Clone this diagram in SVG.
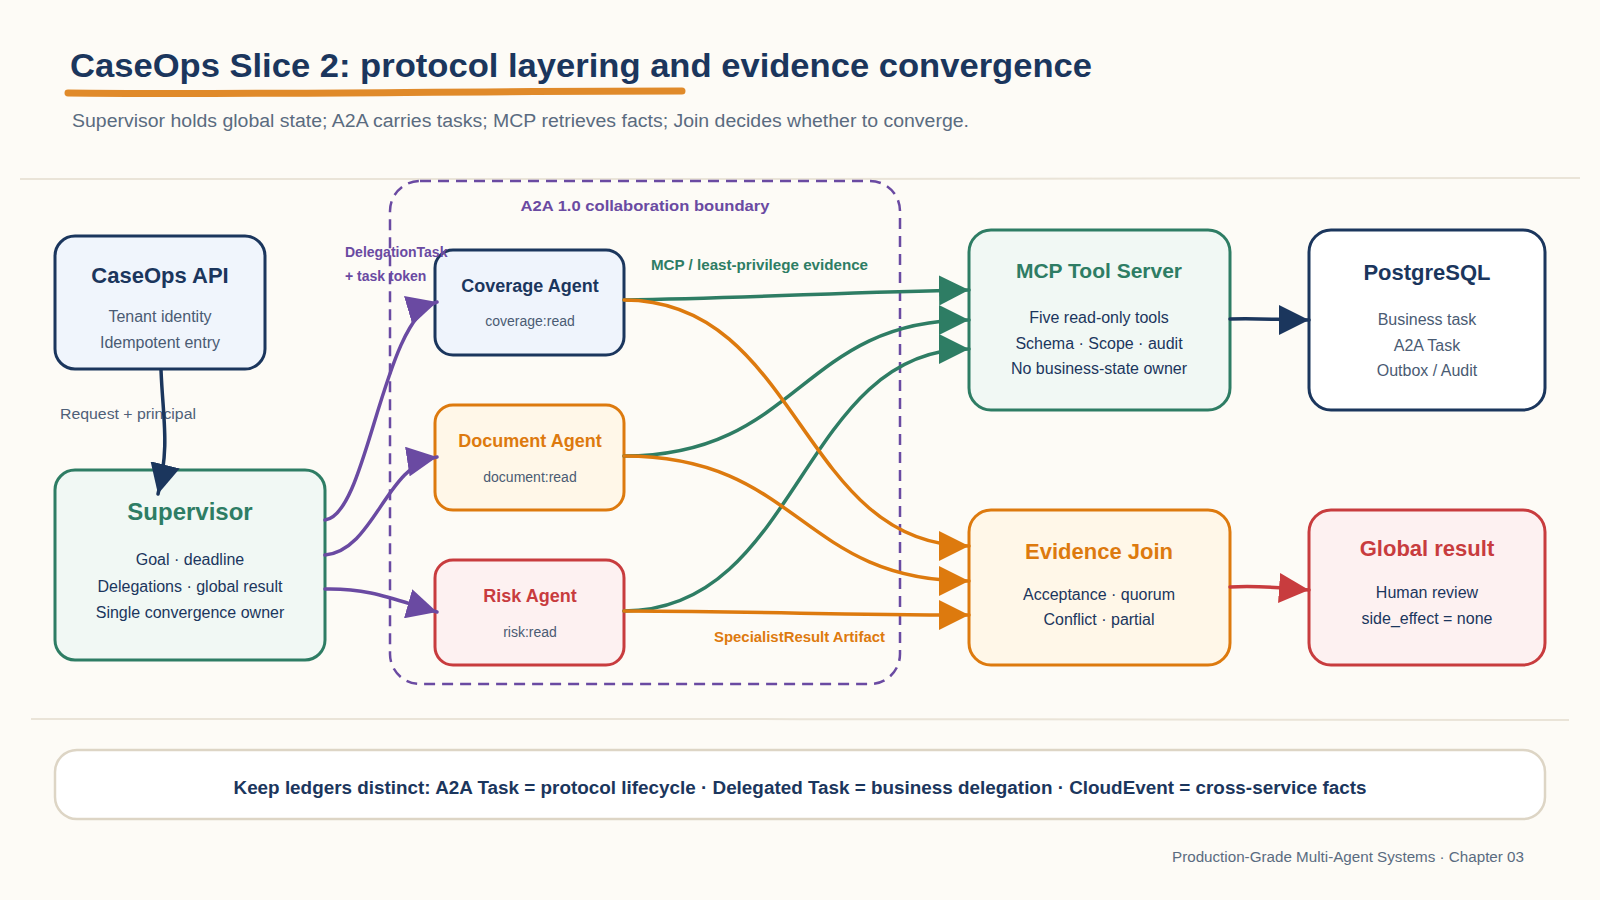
<svg xmlns="http://www.w3.org/2000/svg" width="1600" height="900" viewBox="0 0 1600 900">
<defs>
<style>
text{font-family:"Liberation Sans","Noto Sans",Arial,sans-serif;}
.t{font-weight:700;text-anchor:middle;dominant-baseline:central;}
.b{font-size:16px;text-anchor:middle;dominant-baseline:central;}
.s{font-size:14px;text-anchor:middle;dominant-baseline:central;fill:#4A5B73;}
.box{stroke-width:3;}
.e{fill:none;stroke-width:3.5;stroke-linecap:round;}
.lbl{font-size:14px;font-weight:700;dominant-baseline:central;}
</style>
<marker id="aNavy" viewBox="0 0 10 10" refX="10" refY="5" markerWidth="30" markerHeight="30" markerUnits="userSpaceOnUse" orient="auto"><path d="M0,0 L10,5 L0,10 z" fill="#1B365D"/></marker>
<marker id="aPurple" viewBox="0 0 10 10" refX="10" refY="5" markerWidth="30" markerHeight="30" markerUnits="userSpaceOnUse" orient="auto"><path d="M0,0 L10,5 L0,10 z" fill="#6A4AA2"/></marker>
<marker id="aGreen" viewBox="0 0 10 10" refX="10" refY="5" markerWidth="30" markerHeight="30" markerUnits="userSpaceOnUse" orient="auto"><path d="M0,0 L10,5 L0,10 z" fill="#2E7D64"/></marker>
<marker id="aOrange" viewBox="0 0 10 10" refX="10" refY="5" markerWidth="30" markerHeight="30" markerUnits="userSpaceOnUse" orient="auto"><path d="M0,0 L10,5 L0,10 z" fill="#DD7A0E"/></marker>
<marker id="aRed" viewBox="0 0 10 10" refX="10" refY="5" markerWidth="30" markerHeight="30" markerUnits="userSpaceOnUse" orient="auto"><path d="M0,0 L10,5 L0,10 z" fill="#C83C3E"/></marker>
</defs>
<rect width="1600" height="900" fill="#FDFBF6"/>

<g id="header">
<text x="70" y="77" font-size="33" font-weight="700" fill="#1B365D" textLength="1022" lengthAdjust="spacingAndGlyphs">CaseOps Slice 2: protocol layering and evidence convergence</text>
<path d="M68,93 C250,95 450,91 682,91" fill="none" stroke="#E08A2A" stroke-width="7" stroke-linecap="round"/>
<text x="72" y="127" font-size="18" fill="#5A6B80" textLength="897" lengthAdjust="spacingAndGlyphs">Supervisor holds global state; A2A carries tasks; MCP retrieves facts; Join decides whether to converge.</text>
<path d="M20,179 C500,177 1100,181 1580,178" fill="none" stroke="#EAE4D8" stroke-width="2"/>
<path d="M31,719 C500,721 1100,717 1569,720" fill="none" stroke="#EAE4D8" stroke-width="2"/>
</g>

<g id="a2a-boundary">
<rect x="390" y="181" width="510" height="503" rx="30" fill="none" stroke="#6A4AA2" stroke-width="2.5" stroke-dasharray="11 7"/>
<text x="645" y="206" class="lbl" text-anchor="middle" font-size="15" fill="#6A4AA2" textLength="249" lengthAdjust="spacingAndGlyphs">A2A 1.0 collaboration boundary</text>
</g>

<g id="caseops-api">
<rect class="box" x="55" y="236" width="210" height="133" rx="20" fill="#F0F5FC" stroke="#1B365D"/>
<text class="t" x="160" y="275" font-size="22" fill="#1B365D">CaseOps API</text>
<text class="b" x="160" y="316" fill="#4A5B73">Tenant identity</text>
<text class="b" x="160" y="342" fill="#4A5B73">Idempotent entry</text>
</g>

<g id="supervisor">
<rect class="box" x="55" y="470" width="270" height="190" rx="20" fill="#F1F8F4" stroke="#2E7D64"/>
<text class="t" x="190" y="511" font-size="24" fill="#2E7D64">Supervisor</text>
<text class="b" x="190" y="559" fill="#1B365D">Goal · deadline</text>
<text class="b" x="190" y="586" fill="#1B365D">Delegations · global result</text>
<text class="b" x="190" y="612" fill="#1B365D">Single convergence owner</text>
</g>

<g id="coverage-agent">
<rect class="box" x="435" y="250" width="189" height="105" rx="18" fill="#EFF4FC" stroke="#1B365D"/>
<text class="t" x="530" y="286" font-size="18" fill="#1B365D">Coverage Agent</text>
<text class="s" x="530" y="321">coverage:read</text>
</g>

<g id="document-agent">
<rect class="box" x="435" y="405" width="189" height="105" rx="18" fill="#FFF7E8" stroke="#DD7A0E"/>
<text class="t" x="530" y="441" font-size="18" fill="#DD7A0E">Document Agent</text>
<text class="s" x="530" y="477">document:read</text>
</g>

<g id="risk-agent">
<rect class="box" x="435" y="560" width="189" height="105" rx="18" fill="#FDF1F1" stroke="#C83C3E"/>
<text class="t" x="530" y="596" font-size="18" fill="#C83C3E">Risk Agent</text>
<text class="s" x="530" y="632">risk:read</text>
</g>

<g id="mcp-tool-server">
<rect class="box" x="969" y="230" width="261" height="180" rx="22" fill="#F1F8F4" stroke="#2E7D64"/>
<text class="t" x="1099" y="270" font-size="21" fill="#2E7D64">MCP Tool Server</text>
<text class="b" x="1099" y="317" fill="#1B365D">Five read-only tools</text>
<text class="b" x="1099" y="343" fill="#1B365D">Schema · Scope · audit</text>
<text class="b" x="1099" y="368" fill="#1B365D">No business-state owner</text>
</g>

<g id="postgresql">
<rect class="box" x="1309" y="230" width="236" height="180" rx="22" fill="#FFFFFF" stroke="#1B365D"/>
<text class="t" x="1427" y="272" font-size="22" fill="#1B365D">PostgreSQL</text>
<text class="b" x="1427" y="319" fill="#4A5B73">Business task</text>
<text class="b" x="1427" y="345" fill="#4A5B73">A2A Task</text>
<text class="b" x="1427" y="370" fill="#4A5B73">Outbox / Audit</text>
</g>

<g id="evidence-join">
<rect class="box" x="969" y="510" width="261" height="155" rx="22" fill="#FFF7E8" stroke="#DD7A0E"/>
<text class="t" x="1099" y="551" font-size="22" fill="#DD7A0E">Evidence Join</text>
<text class="b" x="1099" y="594" fill="#1B365D">Acceptance · quorum</text>
<text class="b" x="1099" y="619" fill="#1B365D">Conflict · partial</text>
</g>

<g id="global-result">
<rect class="box" x="1309" y="510" width="236" height="155" rx="22" fill="#FDF1F1" stroke="#C83C3E"/>
<text class="t" x="1427" y="548" font-size="22" fill="#C83C3E">Global result</text>
<text class="b" x="1427" y="592" fill="#1B365D">Human review</text>
<text class="b" x="1427" y="618" fill="#1B365D">side_effect = none</text>
</g>

<g id="connectors">
<text x="60" y="414" font-size="14" fill="#4F6078" dominant-baseline="central" textLength="136" lengthAdjust="spacingAndGlyphs">Request + principal</text>
<path class="e" d="M161,370 C163,420 170,445 158,494" stroke="#1B365D" marker-end="url(#aNavy)"/>

<path class="e" d="M325,520 C368,515 382,318 437,302" stroke="#6A4AA2" marker-end="url(#aPurple)"/>
<path class="e" d="M325,555 C375,550 385,465 437,457" stroke="#6A4AA2" marker-end="url(#aPurple)"/>
<path class="e" d="M325,589 C370,588 395,600 437,612" stroke="#6A4AA2" marker-end="url(#aPurple)"/>
<text x="345" y="252" class="lbl" fill="#6A4AA2">DelegationTask</text>
<text x="345" y="276" class="lbl" fill="#6A4AA2">+ task token</text>

<path class="e" d="M624,300 C750,298 850,292 969,290" stroke="#2E7D64" marker-end="url(#aGreen)"/>
<path class="e" d="M624,456 C800,456 800,320 969,320" stroke="#2E7D64" marker-end="url(#aGreen)"/>
<path class="e" d="M624,611 C800,611 800,349 969,349" stroke="#2E7D64" marker-end="url(#aGreen)"/>
<text x="651" y="265" class="lbl" fill="#2E7D64" textLength="217" lengthAdjust="spacingAndGlyphs">MCP / least-privilege evidence</text>

<path class="e" d="M624,300 C800,300 800,546 969,546" stroke="#DD7A0E" marker-end="url(#aOrange)"/>
<path class="e" d="M624,456 C800,456 800,581 969,581" stroke="#DD7A0E" marker-end="url(#aOrange)"/>
<path class="e" d="M624,611 C800,612 820,615 969,615" stroke="#DD7A0E" marker-end="url(#aOrange)"/>
<text x="714" y="637" class="lbl" fill="#DD7A0E" textLength="171" lengthAdjust="spacingAndGlyphs">SpecialistResult Artifact</text>

<path class="e" d="M1230,319 C1260,318 1280,320 1309,320" stroke="#1B365D" marker-end="url(#aNavy)"/>
<path class="e" d="M1230,587 C1260,585 1280,588 1309,590" stroke="#C83C3E" marker-end="url(#aRed)"/>
</g>

<g id="ledger-banner">
<rect x="55" y="750" width="1490" height="69" rx="22" fill="#FFFFFF" stroke="#DDD5C5" stroke-width="2.5"/>
<text class="t" x="800" y="788" font-size="18" fill="#1B365D" textLength="1133" lengthAdjust="spacingAndGlyphs">Keep ledgers distinct: A2A Task = protocol lifecycle · Delegated Task = business delegation · CloudEvent = cross-service facts</text>
</g>

<g id="footer">
<text x="1524" y="857" font-size="14" fill="#5A6B80" text-anchor="end" dominant-baseline="central" textLength="352" lengthAdjust="spacingAndGlyphs">Production-Grade Multi-Agent Systems · Chapter 03</text>
</g>
</svg>
